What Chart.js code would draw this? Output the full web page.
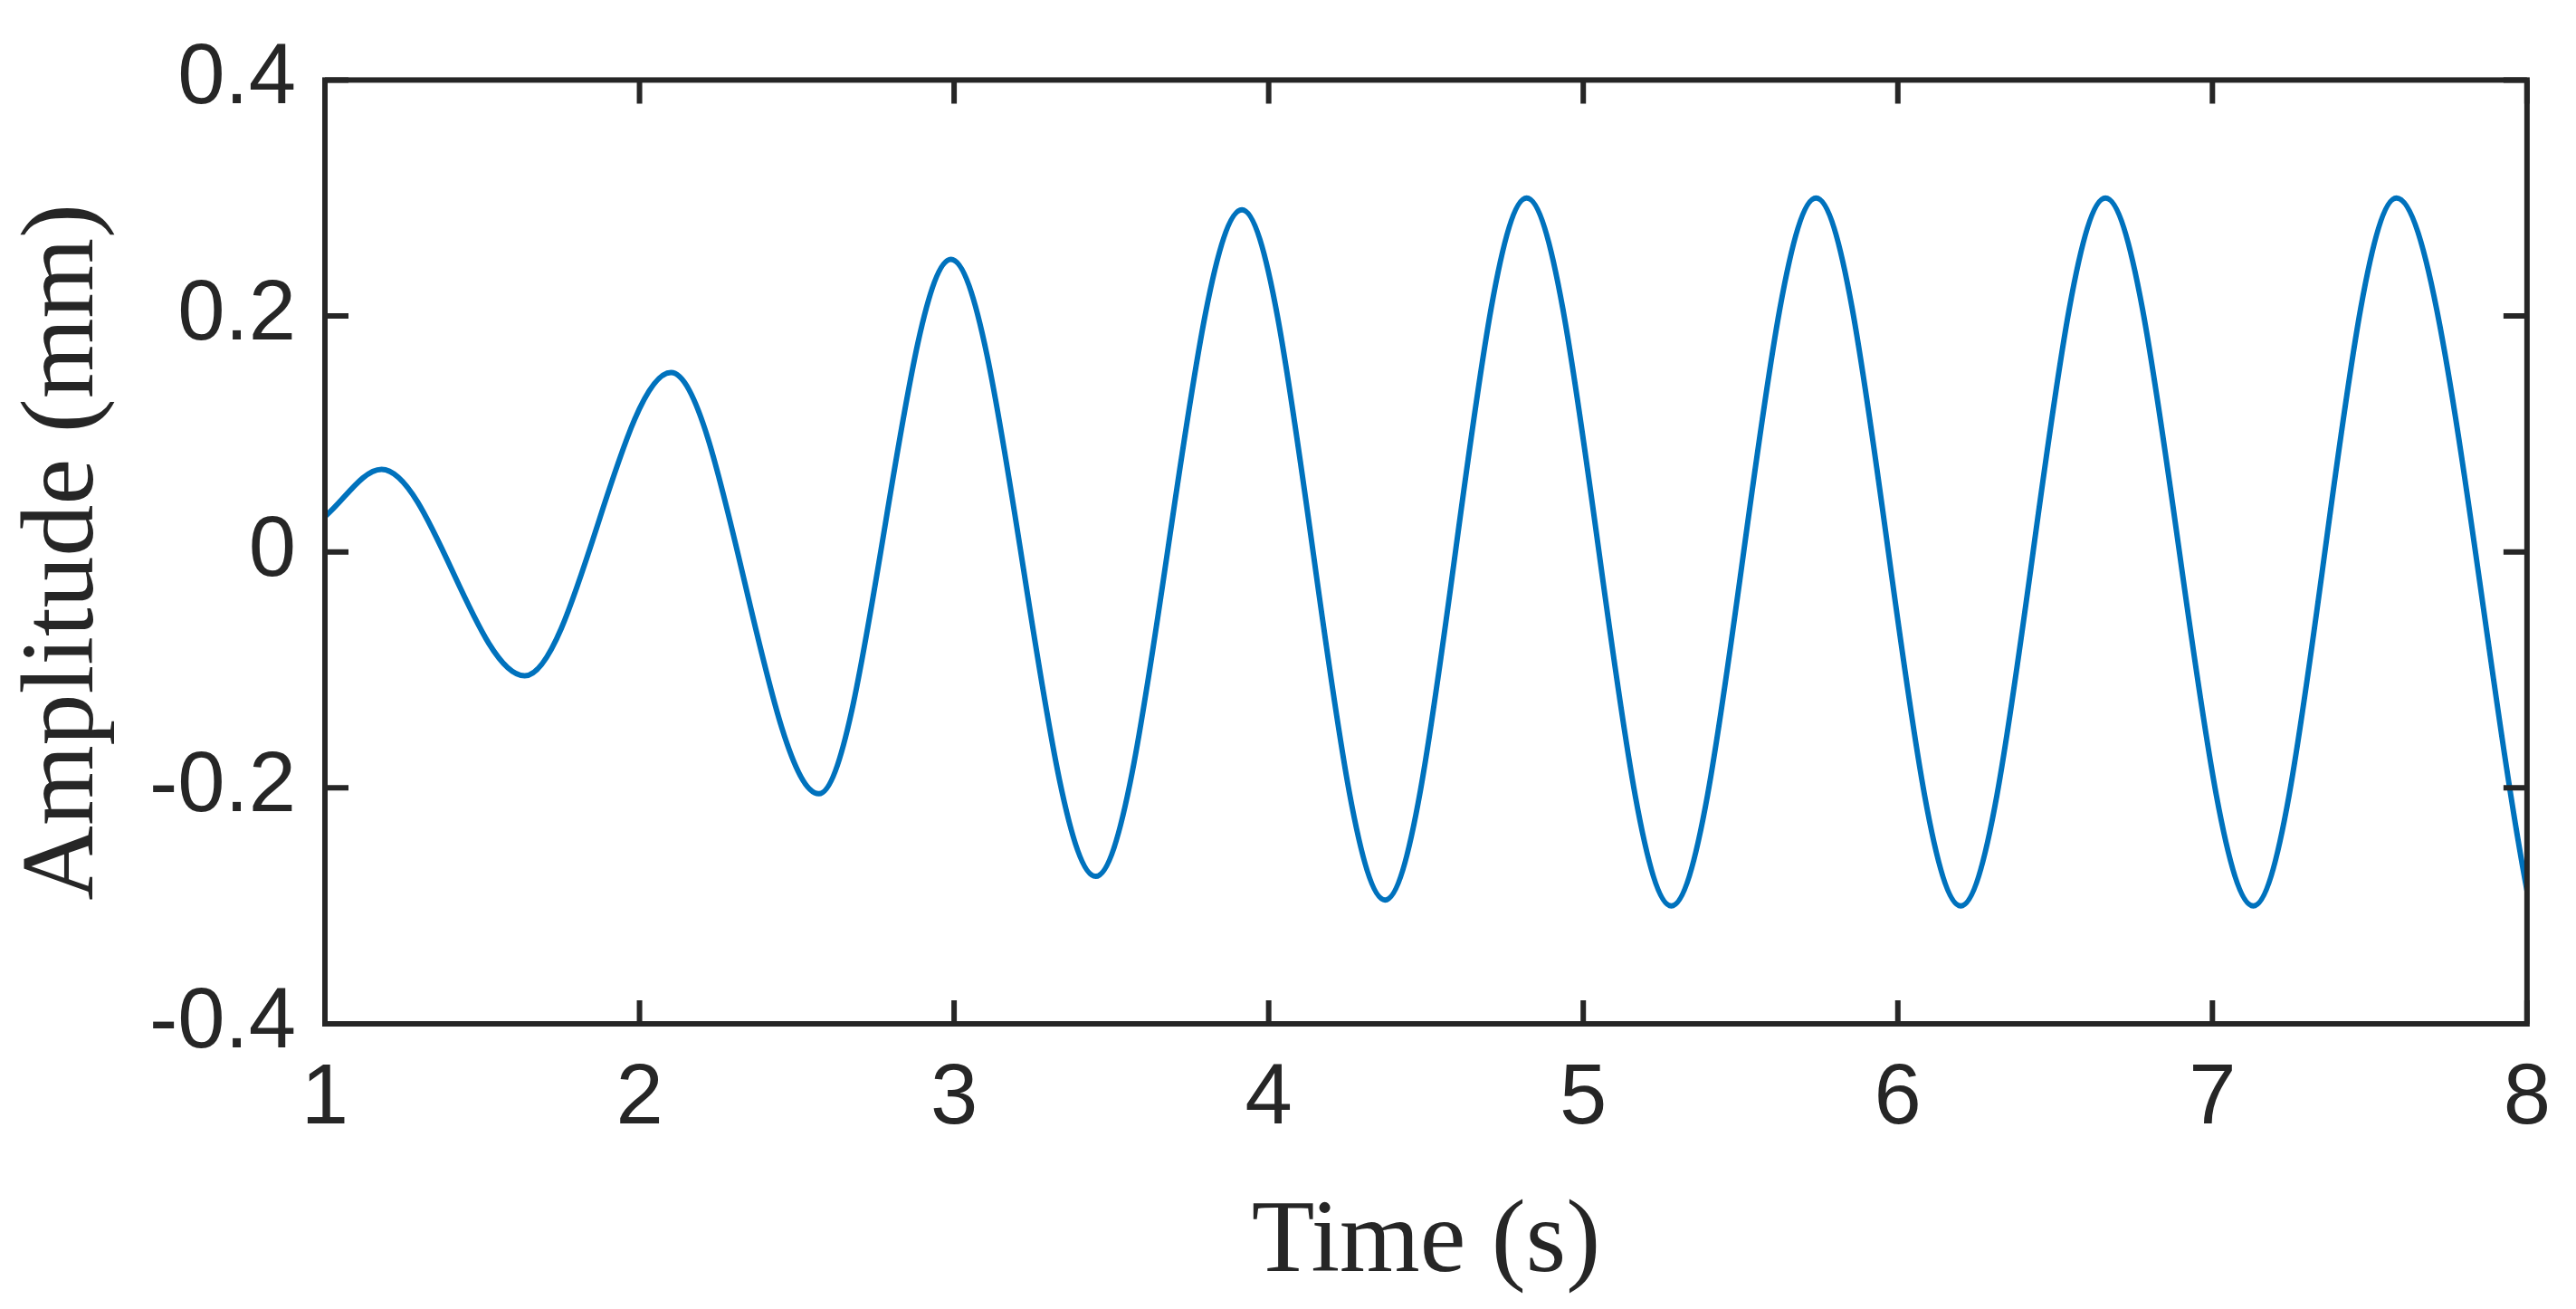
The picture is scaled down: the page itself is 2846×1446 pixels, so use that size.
<!DOCTYPE html>
<html><head><meta charset="utf-8">
<script src="https://cdn.jsdelivr.net/npm/chart.js@4"></script>
<style>html,body{margin:0;padding:0;background:#fff}</style>
</head><body>
<canvas id="c" width="2846" height="1446"></canvas>
<script>
const times = [1.0, 1.18, 1.635, 2.10, 2.57, 2.99, 3.45, 3.915, 4.37, 4.82, 5.28, 5.74, 6.20, 6.66, 7.13, 7.585, 8.0];
const amplitudes = [0.03, 0.07, -0.105, 0.152, -0.205, 0.248, -0.275, 0.29, -0.295, 0.30, -0.30, 0.30, -0.30, 0.30, -0.30, 0.30, -0.287];
const xTicks = [1,2,3,4,5,6,7,8];
const yTicks = [-0.4,-0.2,0,0.2,0.4];
const axisCol = '#262626';
const inwardTicks = {
  id:'inwardTicks',
  afterDraw(ch){
    const {ctx, chartArea:a, scales:{x,y}} = ch;
    ctx.save(); ctx.strokeStyle=axisCol; ctx.lineWidth=6;
    const L=26;
    ctx.beginPath();
    xTicks.forEach(v=>{const p=x.getPixelForValue(v);ctx.moveTo(p,a.bottom);ctx.lineTo(p,a.bottom-L);ctx.moveTo(p,a.top);ctx.lineTo(p,a.top+L);});
    yTicks.forEach(v=>{const p=y.getPixelForValue(v);ctx.moveTo(a.left,p);ctx.lineTo(a.left+L,p);ctx.moveTo(a.right,p);ctx.lineTo(a.right-L,p);});
    ctx.stroke();
    ctx.strokeRect(a.left,a.top,a.right-a.left,a.bottom-a.top);
    ctx.restore();
  }
};
new Chart(document.getElementById('c'),{
  type:'line',
  data:{datasets:[{data:times.map((t,i)=>({x:t,y:amplitudes[i]})),borderColor:'#0072BD',borderWidth:6,pointRadius:0,cubicInterpolationMode:'monotone',fill:false}]},
  options:{
    responsive:false, devicePixelRatio:1, animation:false,
    layout:{padding:{left:0,right:45,top:64,bottom:0}},
    plugins:{legend:{display:false},tooltip:{enabled:false}},
    scales:{
      x:{type:'linear',min:1,max:8,
        afterFit(s){s.height=315;},
        afterBuildTicks(s){s.ticks=xTicks.map(v=>({value:v}));},
        grid:{display:false,drawTicks:false},border:{display:false},
        ticks:{padding:28,color:axisCol,font:{family:'Liberation Sans',size:94},callback:v=>String(v),maxRotation:0},
        title:{display:true,text:'Time (s)',color:axisCol,font:{family:'Liberation Serif',size:114},padding:{top:20}}},
      y:{type:'linear',min:-0.4,max:0.4,
        afterFit(s){s.width=359;},
        afterBuildTicks(s){s.ticks=yTicks.map(v=>({value:v}));},
        grid:{display:false,drawTicks:false},border:{display:false},
        ticks:{padding:32,color:axisCol,font:{family:'Liberation Sans',size:94},callback:v=>v===0?'0':String(Math.round(v*10)/10)},
        title:{display:true,text:'Amplitude (mm)',color:axisCol,font:{family:'Liberation Serif',size:114},padding:{bottom:0,top:4}}}
    }
  },
  plugins:[inwardTicks]
});
</script>
</body></html>
